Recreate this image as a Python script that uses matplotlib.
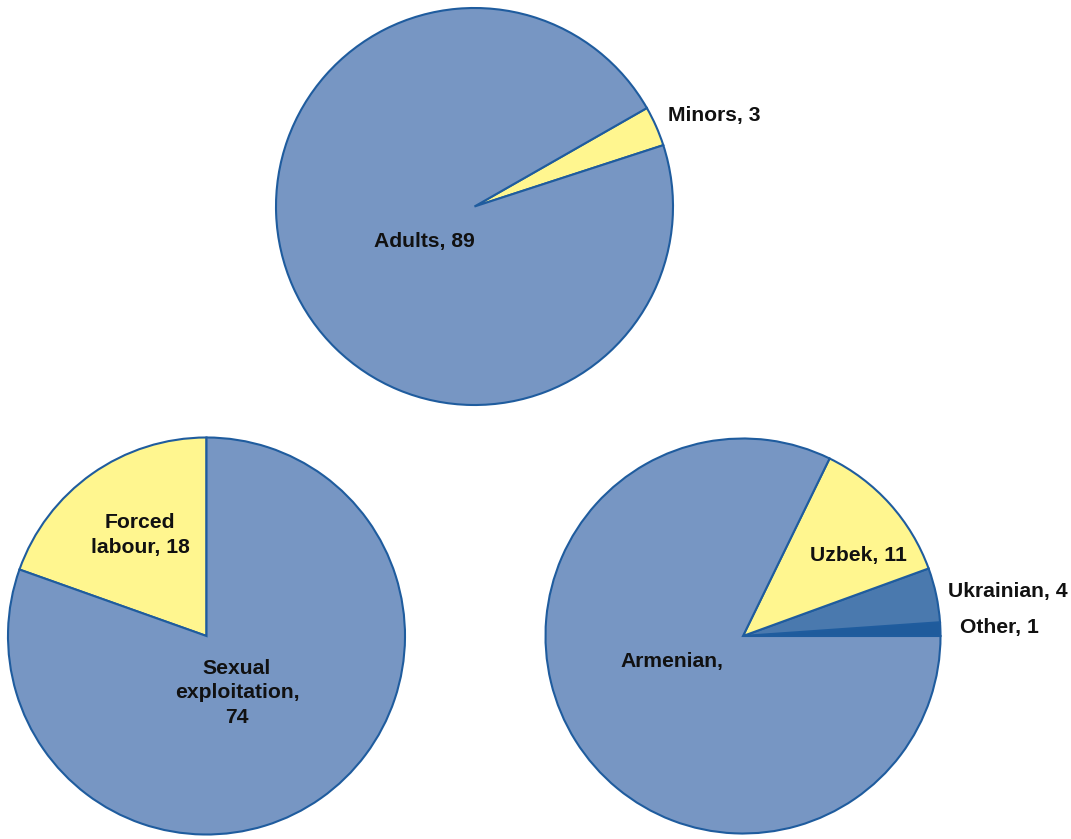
import matplotlib
matplotlib.use("Agg")
import matplotlib.pyplot as plt

# Data
age_labels = ["Minors, 3", "Adults, 89"]
age_values = [3, 89]
form_labels = ["Forced\nlabour, 18", "Sexual\nexploitation,\n74"]
form_values = [18, 74]
nat_labels = ["Other, 1", "Ukrainian, 4", "Uzbek, 11", "Armenian,"]
nat_values = [1, 4, 11, 74]

BLUE = "#7796C3"
YELLOW = "#FFF68F"
MID = "#4A79AE"
DARK = "#1F5B9C"
EDGE = "#1F5C9E"
TXT = "#111111"

W, H = 1071, 839
fig = plt.figure(figsize=(W / 100, H / 100), dpi=100)
fig.patch.set_facecolor("white")
plt.rcParams["font.family"] = ["Liberation Sans", "DejaVu Sans"]


def pie_axes(cx, cy, r):
    m = 1.01
    ax = fig.add_axes([(cx - r * m) / W, 1 - (cy + r * m) / H, 2 * r * m / W, 2 * r * m / H])
    ax.set_aspect("equal")
    ax.axis("off")
    return ax


wp = dict(edgecolor=EDGE, linewidth=1.5)

ax1 = pie_axes(474.5, 206.5, 198.5)
ax1.pie(age_values, colors=[YELLOW, BLUE], startangle=18, counterclock=True,
        radius=1, wedgeprops=wp)
ax1.set_xlim(-1.01, 1.01); ax1.set_ylim(-1.01, 1.01)

ax2 = pie_axes(206.5, 636, 198.5)
ax2.pie(form_values, colors=[YELLOW, BLUE], startangle=90, counterclock=True,
        radius=1, wedgeprops=wp)
ax2.set_xlim(-1.01, 1.01); ax2.set_ylim(-1.01, 1.01)

ax3 = pie_axes(743, 636, 197.5)
ax3.pie(nat_values, colors=[DARK, MID, YELLOW, BLUE], startangle=0, counterclock=True,
        radius=1, wedgeprops=wp)
ax3.set_xlim(-1.01, 1.01); ax3.set_ylim(-1.01, 1.01)


def ptext(x, y, s, ha="center"):
    fig.text(x / W, 1 - y / H, s, ha=ha, va="center", fontsize=15.2,
             fontweight="bold", color=TXT, linespacing=1.38)


ptext(424, 241, age_labels[1])
ptext(668, 116, age_labels[0], ha="left")
ptext(140, 535, form_labels[0])
ptext(237, 693, form_labels[1])
ptext(858, 555, nat_labels[2])
ptext(948, 592, nat_labels[1], ha="left")
ptext(960, 628, nat_labels[0], ha="left")
ptext(672, 661, nat_labels[3])

fig.savefig("out.png", dpi=100)
